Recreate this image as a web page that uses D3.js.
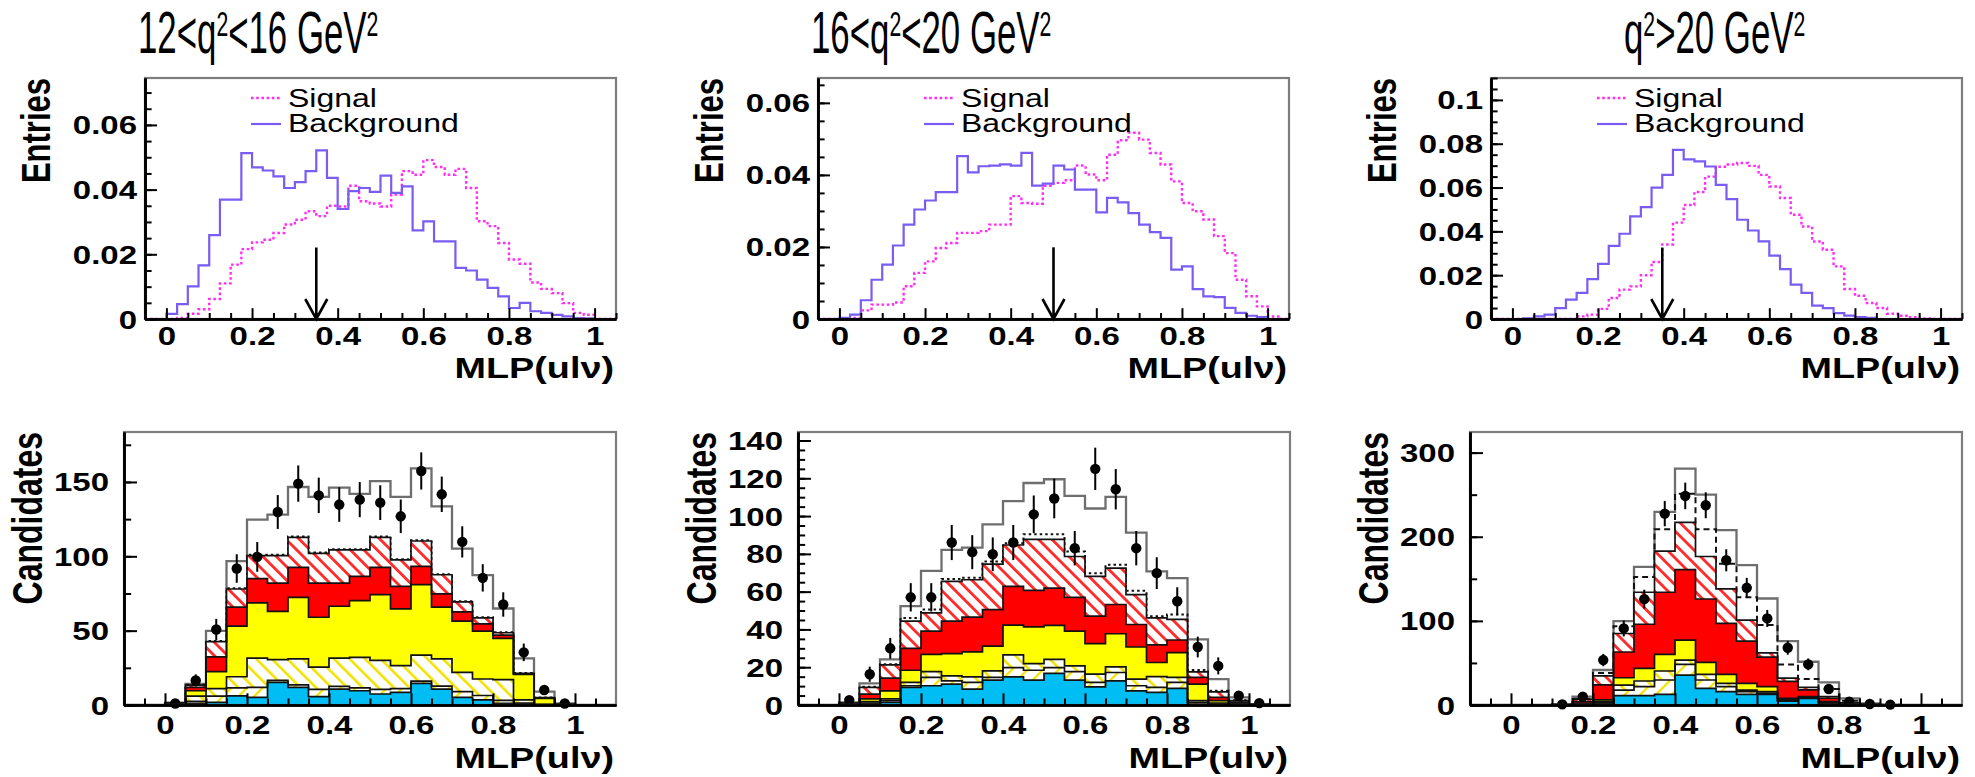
<!DOCTYPE html>
<html>
<head>
<meta charset="utf-8">
<script src="https://cdn.jsdelivr.net/npm/d3@7"></script>
<style>
  html, body { margin: 0; padding: 0; background: #fff; }
  svg { display: block; }
</style>
</head>
<body>
<svg id="chart" width="1975" height="777"></svg>
<script>
// ---------------- data ----------------
// q^2 bin titles: [text, isSuperscript]
const titleParts = [
  [["12<q", 0], ["2", 1], ["<16 GeV", 0], ["2", 1]],
  [["16<q", 0], ["2", 1], ["<20 GeV", 0], ["2", 1]],
  [["q", 0], ["2", 1], [">20 GeV", 0], ["2", 1]]
];

// MLP output shapes, 44 bins of 0.025 from -0.05 to 1.05
const sigTL = [0,0, 0,0.0003,0.0016,0.0030,0.0062,0.0110,0.0168,0.0216,0.0237,0.0245,0.0266,0.0292,0.0307,0.0333,0.0318,0.0350,0.0348,0.0412,0.0364,0.0357,0.0348,0.0385,0.0457,0.0446,0.0491,0.0470,0.0446,0.0464,0.0405,0.0302,0.0287,0.0235,0.0184,0.0171,0.0113,0.0093,0.0080,0.0049,0.0019,0.0013, 0,0];
const bkgTL = [0,0, 0.0016,0.0046,0.0101,0.0166,0.0259,0.0369,0.0369,0.0513,0.0469,0.0459,0.0441,0.0405,0.0423,0.0457,0.0521,0.0436,0.0340,0.0395,0.0405,0.0393,0.0443,0.0390,0.0410,0.0274,0.0302,0.0240,0.0240,0.0158,0.0150,0.0122,0.0096,0.0070,0.0034,0.0050,0.0024,0.0019,0.0013,0.0008,0.0003,0.0002, 0,0];
const sigTM = [0,0, 0,0.0003,0.0024,0.0040,0.0040,0.0046,0.0091,0.0128,0.0160,0.0197,0.0211,0.0239,0.0239,0.0244,0.0262,0.0262,0.0341,0.0322,0.0320,0.0370,0.0378,0.0385,0.0426,0.0401,0.0385,0.0456,0.0496,0.0517,0.0498,0.0461,0.0429,0.0382,0.0322,0.0299,0.0276,0.0230,0.0183,0.0109,0.0063,0.0035, 0.0007,0];
const bkgTM = [0,0, 0.0003,0.0012,0.0052,0.0109,0.0151,0.0204,0.0262,0.0304,0.0329,0.0352,0.0352,0.0452,0.0407,0.0424,0.0426,0.0429,0.0426,0.0461,0.0370,0.0376,0.0426,0.0415,0.0359,0.0359,0.0296,0.0336,0.0324,0.0294,0.0262,0.0241,0.0225,0.0137,0.0146,0.0083,0.0063,0.0061,0.0031,0.0017,0.0009,0.0005, 0,0];
const sigTR = [0,0, 0,0,0,0,0,0,0.0012,0.0020,0.0046,0.0096,0.0134,0.0149,0.0200,0.0260,0.0340,0.0440,0.0520,0.0580,0.0650,0.0695,0.0705,0.0712,0.0699,0.0658,0.0605,0.0552,0.0476,0.0422,0.0354,0.0316,0.0240,0.0137,0.0106,0.0073,0.0050,0.0024,0.0015,0.0008,0.0003,0, 0,0];
const bkgTR = [0,0, 0,0.0003,0.0012,0.0020,0.0050,0.0088,0.0119,0.0182,0.0252,0.0334,0.0389,0.0468,0.0511,0.0600,0.0658,0.0772,0.0729,0.0719,0.0696,0.0612,0.0547,0.0453,0.0404,0.0354,0.0289,0.0228,0.0157,0.0119,0.0061,0.0050,0.0027,0.0015,0.0009,0.0005,0,0,0,0,0,0, 0,0];

// MLP cut positions and arrow tops
const cutValue = [0.35, 0.5, 0.35];
const arrowTop = [0.0221, 0.0199, 0.0326];

// candidate distributions, 24 bins of 0.05 from -0.1 to 1.1 (stack order bottom -> top)
const blueBL  = [0,0,0.5,1.1,1.8,6.2,5.1,15.2,11.8,5.6,10.7,9.6,7.4,8.5,14.5,10.7,5.1,3.4,1.1,0.3,0,0,0,0];
const ylwBBL  = [0,0,0.2,1.4,4.2,5.3,6.7,1.3,1.7,4.9,1.8,1.9,3.1,2.5,1.5,2.0,3.9,3.0,2.0,1.0,0.2,0,0,0];
const ylwABL  = [0,0,0.2,3.5,5.0,7.5,19.7,14.0,17.5,15.0,19.0,20.5,19.5,15.5,17.5,18.3,13.0,11.1,13.9,2.2,0.3,0,0,0];
const yelBL   = [0,0,0.2,3.6,11.5,34.0,37.2,32.5,41.4,33.5,34.9,38.2,44.2,38.1,47.4,34.8,34.4,32.2,27.8,17.0,4.0,0.3,0,0];
const redBL   = [0,0,0.1,2.2,9.8,12.8,16.3,19.0,20.1,23.0,15.6,16.3,18.3,15.2,12.3,8.9,6.2,4.9,2.2,0.5,0.2,0.1,0,0];
const redHBL  = [0,0,0.1,1.6,10.3,12.2,15.5,18.5,20.3,20.0,22.3,17.8,20.3,17.8,17.1,12.9,6.7,4.0,1.6,0.3,0.3,0.1,0,0];
const altBL   = [0,0,1.4,13.6,43,78.5,101,101,113.3,102.5,104.8,104.8,113.3,98.1,110.8,88,69.7,59,49,21.5,5.1,0.5,0,0];
const totBL   = [0,0,1.5,14.2,49.8,96.8,124.7,128,146.6,140,146.2,142,150.6,140,159.2,133.6,105.2,87.3,64.9,31.3,9,1,0,0];
const dataBL  = [null,null,1,16.5,50.8,91.8,99.6,129.8,148.9,141,134.8,138.1,136.1,126.9,157.4,141.7,109.7,85.5,67.6,35.4,10.1,1,null,null];
const errBL   = [null,null,1,4.1,7.1,9.6,10,11.4,12.2,11.9,11.6,11.8,11.7,11.3,12.5,11.9,10.5,9.2,8.2,5.9,3.2,1,null,null];

const blueBM  = [0,0,0.2,0.5,1.4,9.3,10.2,11,8.4,13.2,14.9,13.2,16.7,13.2,9.6,12.8,7.5,6.7,8.8,0.5,0.3,0.1,0,0];
const ylwBBM  = [0,0,0.1,0.5,0.9,0.9,4.4,1.8,3.6,1.4,4.9,5.2,3.1,4.5,2.4,4.4,2.7,2.6,3.2,0.9,0.3,0.1,0,0];
const ylwABM  = [0,0,0.1,0.8,0.9,1.8,3.1,2.6,2.9,3.5,6.7,3.5,4.4,3.0,4.3,3.0,3.5,5.7,2.6,0.9,0.4,0.1,0,0];
const yelBM   = [0,0,0.2,1.4,4.3,6.4,9.1,11.8,13.2,13.1,15.8,19.5,17.9,18.4,16.2,17.5,17.0,7.5,13.1,8.7,1.3,0.5,0.1,0];
const redBM   = [0,0,0.2,2.6,6.7,11.6,12.3,17.2,18.4,19.3,20.5,19.3,19.8,17.9,14.5,15.5,11.9,9.3,6.7,3.6,1.7,0.7,0.1,0];
const redHBM  = [0,0,0.2,3.5,7.0,14.4,9.7,21.0,19.8,24.1,21.9,27.0,25.8,21.6,21.1,19.3,15.8,14.3,10.9,2.9,3.0,0.8,0.1,0];
const altBM   = [0,0,1.1,9.6,21.6,46.1,50.5,66.7,67.4,76,85.6,90.4,90.4,81.2,69.8,74.2,60.5,47,47.9,18.5,7.5,2.5,0.3,0];
const totBM   = [0,0,1.4,11.4,24.2,52.3,71,82.1,83.3,95.6,107.9,117.5,119.5,110.7,104,110.2,91.2,70.7,67.2,34.7,13.7,4,0.5,0];
const dataBM  = [null,null,2.6,16.3,30,57,57,86,80.9,79.8,86,100.9,109.3,83,125,114.2,83,69.8,54.9,30.7,20.7,4.9,1,null];
const errBM   = [null,null,1.6,4,5.5,7.5,7.5,9.3,9,8.9,9.3,10,10.5,9.1,11.2,10.7,9.1,8.4,7.4,5.5,4.5,2.2,1,null];

const blueBR  = [0,0,0,0,0,0.5,2,11.1,11.1,12.7,35.6,19.8,15.8,12.7,12.7,4.7,7.9,2,0.5,0.1,0,0,0,0];
const ylwBBR  = [0,0,0,0,0,0.5,1,6.7,10.7,17,12.7,9.9,6,3.1,1.3,0.8,0.6,0.5,0.3,0.1,0,0,0,0];
const ylwABR  = [0,0,0,0,0,0.5,1,5.9,6.7,10.7,5.1,6.7,3.9,2,1.8,1,0.5,0.5,0.2,0.1,0,0,0,0];
const yelBR   = [0,0,0,0,0.1,0.5,2,8.7,15,19.7,23.8,14.3,10.7,7.9,6,1.5,1,1,0.2,0.1,0.1,0,0,0];
const redBR   = [0,0,0,0,0.2,2,18,30.6,52.5,73.9,83.8,75.3,60.6,50.3,35.2,20,8,4,0.8,0.2,0.1,0,0,0];
const redHBR  = [0,0,0,0,0.2,3,10.6,22,38,49,56,50.5,41,25,5,4,3,2,0.5,0.2,0.1,0,0,0];
const altBR   = [0,0,0,0,0.6,7.5,38,93.5,152,209,251,209,168,128,95,48,31,19,5,1.2,0.4,0,0,0];
const totBR   = [0,0,0,0,1,9.9,41.6,99.7,164.2,229.5,281,250,207.8,166.2,126.6,76,51.4,26.9,7.9,2,0.5,0,0,0];
const dataBR  = [null,null,null,null,0.8,9.9,53.4,91,125.8,227.5,248.5,237.4,172,139.3,102.9,68,48.3,19,4,1.2,0.5,null,null,null];
const errBR   = [null,null,null,null,0.9,3.1,7.3,9.5,11.2,15.1,15.8,15.4,13.1,11.8,10.1,8.2,7,4.4,2,1.1,0.7,null,null,null];

// axis ticks and labels
const mlpTicks = [0, 0.2, 0.4, 0.6, 0.8, 1];
const mlpTickLabels = ["0", "0.2", "0.4", "0.6", "0.8", "1"];
const topYTicks = [[0,0.02,0.04,0.06],[0,0.02,0.04,0.06],[0,0.02,0.04,0.06,0.08,0.1]];
const topYTickLabels = [["0","0.02","0.04","0.06"],["0","0.02","0.04","0.06"],["0","0.02","0.04","0.06","0.08","0.1"]];
const botYTicks = [[0,50,100,150],[0,20,40,60,80,100,120,140],[0,100,200,300]];
const botYTickLabels = [["0","50","100","150"],["0","20","40","60","80","100","120","140"],["0","100","200","300"]];
const topYMax = [0.0745, 0.0669, 0.11];
const botYMax = [183.6, 144.5, 324.5];
const topYMinorStep = [0.005, 0.005, 0.005];
const botYMinorStep = [25, 5, 50];
const legendLabels = ["Signal", "Background"];

// ---------------- layout ----------------
const FONT = '"Liberation Sans", Arial, Helvetica, sans-serif';
const SX = 1.32;                       // horizontal stretch of the panel lettering
const TITLE_SX = 0.59;                 // titles use a tall narrow face
const topLeft = [145, 818, 1491], topW = 471, topT = 78, topB = 319;
const botLeft = [124, 798, 1470], botW = 492, botT = 432, botB = 705;
const topX0 = -0.05, topBW = 0.025;
const botX0 = -0.1, botBW = 0.05;
const titleX = [138, 811, 1624];
const sigColor = "#ff2df5", bkgColor = "#7a5cf2";

const svg = d3.select("#chart");
const defs = svg.append("defs");

function hatch(id, color, angle, spacing, width) {
  const p = defs.append("pattern").attr("id", id).attr("patternUnits", "userSpaceOnUse")
    .attr("width", spacing).attr("height", spacing)
    .attr("patternTransform", `rotate(${angle})`);
  p.append("rect").attr("width", spacing).attr("height", spacing).attr("fill", "#fff");
  p.append("rect").attr("x", 0).attr("width", width).attr("height", spacing).attr("fill", color);
}
hatch("hRed", "#ff2a2a", -45, 9.5, 2.8);
hatch("hYelA", "#f2e200", -45, 11, 2.6);
hatch("hYelB", "#f2e200", 45, 11, 2.2);

function stepPts(vals, x, y, x0, bw) {
  const pts = vals.map((v, k) => [x(x0 + k * bw), y(v)]);
  pts.push([x(x0 + vals.length * bw), y(vals[vals.length - 1])]);
  return pts;
}
const stepLine = d3.line().curve(d3.curveStepAfter);

function stretchedText(parent, x, y, str, opts) {
  const g = parent.append("g").attr("transform", `translate(${x},${y}) scale(${opts.sx || SX},1)${opts.rot ? " rotate(-90)" : ""}`);
  return g.append("text").attr("font-family", FONT).attr("font-size", opts.size)
    .attr("font-weight", opts.bold ? "bold" : "normal").attr("text-anchor", opts.anchor || "start")
    .attr("fill", "#000").text(str);
}

function styleAxis(sel, fs) {
  sel.attr("font-family", FONT).attr("font-size", fs).attr("font-weight", "bold");
  sel.select(".domain").attr("stroke", "#000").attr("stroke-width", 2.6);
  sel.selectAll(".tick line").attr("stroke", "#000").attr("stroke-width", 2);
  sel.selectAll(".tick text").attr("fill", "#000");
}

function drawAxes(g, x, y, L, R, T, B, xMinor, yMajor, yLabels, yMinor, yPad, xLabelY, tickLen) {
  // frame
  g.append("rect").attr("x", L).attr("y", T).attr("width", R - L).attr("height", B - T)
    .attr("fill", "none").attr("stroke", "#7d7d7d").attr("stroke-width", 2.2);
  // y axis: minor then major
  g.append("g").attr("transform", `translate(${L},0)`)
    .call(d3.axisLeft(y).tickValues(yMinor).tickSize(-tickLen * 0.55).tickSizeOuter(0).tickFormat(""))
    .call(s => styleAxis(s, 25));
  g.append("g").attr("transform", `translate(${L},0)`)
    .call(d3.axisLeft(y).tickValues(yMajor).tickSize(-tickLen).tickSizeOuter(0)
      .tickPadding(yPad / SX).tickFormat((d, i) => yLabels[i]))
    .call(s => styleAxis(s, 25))
    .call(s => s.selectAll(".tick text").attr("transform", `scale(${SX},1)`).attr("dy", "0.36em"));
  // x axis: minor then major
  g.append("g").attr("transform", `translate(0,${B})`)
    .call(d3.axisBottom(x).tickValues(xMinor).tickSize(-tickLen * 0.5).tickSizeOuter(0).tickFormat(""))
    .call(s => styleAxis(s, 25));
  g.append("g").attr("transform", `translate(0,${B})`)
    .call(d3.axisBottom(x).tickValues(mlpTicks).tickSize(-tickLen * 0.9).tickSizeOuter(0)
      .tickFormat((d, i) => mlpTickLabels[i]))
    .call(s => styleAxis(s, 25))
    .call(s => s.selectAll(".tick text").attr("y", xLabelY).attr("dy", 0).attr("transform", `scale(${SX},1)`));
}

// ---------------- titles ----------------
titleParts.forEach((parts, i) => {
  const t = svg.append("g").attr("transform", `translate(${titleX[i]},53) scale(${TITLE_SX},1)`)
    .append("text").attr("x", 0).attr("y", 0)
    .attr("font-family", FONT).attr("font-size", 59).attr("fill", "#000");
  let prevSup = false;
  parts.forEach(([s, sup]) => {
    const ts = t.append("tspan").attr("font-size", sup ? 36 : 59).text(s);
    if (sup) ts.attr("dy", -17);
    else if (prevSup) ts.attr("dy", 17);
    prevSup = !!sup;
  });
});

// ---------------- top row: MLP shapes ----------------
const sigTop = [sigTL, sigTM, sigTR];
const bkgTop = [bkgTL, bkgTM, bkgTR];

for (let p = 0; p < 3; p++) {
  const L = topLeft[p], R = L + topW;
  const x = d3.scaleLinear().domain([topX0, topX0 + 44 * topBW]).range([L, R]);
  const y = d3.scaleLinear().domain([0, topYMax[p]]).range([topB, topT]);
  const g = svg.append("g");
  const clip = "clipTop" + p;
  defs.append("clipPath").attr("id", clip).append("rect")
    .attr("x", L).attr("y", topT).attr("width", topW).attr("height", topB - topT);
  const pl = g.append("g").attr("clip-path", `url(#${clip})`);

  pl.append("path").attr("d", stepLine(stepPts(sigTop[p], x, y, topX0, topBW)))
    .attr("fill", "none").attr("stroke", sigColor).attr("stroke-width", 2.4).attr("stroke-dasharray", "2.6,2.6");
  pl.append("path").attr("d", stepLine(stepPts(bkgTop[p], x, y, topX0, topBW)))
    .attr("fill", "none").attr("stroke", bkgColor).attr("stroke-width", 2.2);

  // cut arrow
  const ax = x(cutValue[p]);
  g.append("line").attr("x1", ax).attr("x2", ax).attr("y1", y(arrowTop[p])).attr("y2", y(0))
    .attr("stroke", "#000").attr("stroke-width", 2.6);
  g.append("path").attr("d", `M${ax - 11},${y(0) - 20}L${ax},${y(0)}L${ax + 11},${y(0) - 20}`)
    .attr("fill", "none").attr("stroke", "#000").attr("stroke-width", 2.6);

  const xMinor = d3.range(-1, 22).map(k => k * 0.05).filter(v => !mlpTicks.includes(+v.toFixed(2)));
  const yMinor = d3.range(0, Math.floor(topYMax[p] / topYMinorStep[p] + 1e-6) + 1).map(k => k * topYMinorStep[p]);
  drawAxes(g, x, y, L, R, topT, topB, xMinor, topYTicks[p], topYTickLabels[p], yMinor, 8, 26, 12);

  // legend
  const lx = L + 106;
  g.append("line").attr("x1", lx).attr("x2", lx + 30).attr("y1", 98).attr("y2", 98)
    .attr("stroke", sigColor).attr("stroke-width", 2.4).attr("stroke-dasharray", "2.6,2.6");
  g.append("line").attr("x1", lx).attr("x2", lx + 30).attr("y1", 124).attr("y2", 124)
    .attr("stroke", bkgColor).attr("stroke-width", 2.2);
  stretchedText(g, L + 143, 107, legendLabels[0], { size: 25, sx: 1.28 });
  stretchedText(g, L + 143, 132, legendLabels[1], { size: 25, sx: 1.28 });

  // axis titles
  stretchedText(g, L - 95, topT, "Entries", { size: 31, bold: true, rot: true, anchor: "end" });
  stretchedText(g, R - 2, 378, "MLP(ul\u03bd)", { size: 30, bold: true, anchor: "end", sx: 1.26 });
}

// ---------------- bottom row: candidate stacks ----------------
const layerKeys = ["blue", "ylwB", "ylwA", "yellow", "red", "redH"];
const layerFill = {
  blue: "#00bdf4", ylwB: "url(#hYelB)", ylwA: "url(#hYelA)",
  yellow: "#ffff00", red: "#ff0000", redH: "url(#hRed)"
};
const botLayers = [
  [blueBL, ylwBBL, ylwABL, yelBL, redBL, redHBL],
  [blueBM, ylwBBM, ylwABM, yelBM, redBM, redHBM],
  [blueBR, ylwBBR, ylwABR, yelBR, redBR, redHBR]
];
const botAlt = [altBL, altBM, altBR];
const botAltDash = ["2.5,3", "2.5,3", "6,4"];
const botTot = [totBL, totBM, totBR];
const botData = [dataBL, dataBM, dataBR];
const botErr = [errBL, errBM, errBR];

for (let p = 0; p < 3; p++) {
  const L = botLeft[p], R = L + botW;
  const x = d3.scaleLinear().domain([botX0, botX0 + 24 * botBW]).range([L, R]);
  const y = d3.scaleLinear().domain([0, botYMax[p]]).range([botB, botT]);
  const g = svg.append("g");
  const clip = "clipBot" + p;
  defs.append("clipPath").attr("id", clip).append("rect")
    .attr("x", L).attr("y", botT).attr("width", botW).attr("height", botB - botT);
  const pl = g.append("g").attr("clip-path", `url(#${clip})`);

  const rows = botTot[p].map((_, k) => {
    const r = {};
    layerKeys.forEach((key, j) => { r[key] = botLayers[p][j][k]; });
    return r;
  });
  const stacked = d3.stack().keys(layerKeys)(rows);

  // overall fit: white body with grey outline
  const totPts = stepPts(botTot[p], x, y, botX0, botBW);
  const area = d3.area().curve(d3.curveStepAfter).x(d => d[0]).y0(d => d[1]).y1(d => d[2]);
  pl.append("path").attr("d", area(totPts.map(d => [d[0], y(0), d[1]]))).attr("fill", "#fff");
  pl.append("path").attr("d", stepLine(totPts)).attr("fill", "none").attr("stroke", "#6e6e6e").attr("stroke-width", 2.3);

  // alternative fit line
  pl.append("path").attr("d", stepLine(stepPts(botAlt[p], x, y, botX0, botBW)))
    .attr("fill", "none").attr("stroke", "#111").attr("stroke-width", 2).attr("stroke-dasharray", botAltDash[p]);

  // stacked components
  stacked.forEach(s => {
    const pts = s.map((d, k) => [x(botX0 + k * botBW), y(d[0]), y(d[1])]);
    pts.push([x(botX0 + s.length * botBW), y(s[s.length - 1][0]), y(s[s.length - 1][1])]);
    pl.append("path").attr("d", area(pts)).attr("fill", layerFill[s.key]);
  });
  stacked.forEach(s => {
    const pts = s.map((d, k) => [x(botX0 + k * botBW), y(d[1])]);
    pts.push([x(botX0 + s.length * botBW), y(s[s.length - 1][1])]);
    pl.append("path").attr("d", stepLine(pts)).attr("fill", "none")
      .attr("stroke", "#111").attr("stroke-width", 1.7);
  });

  // data points with errors
  const pts = botData[p].map((v, k) => ({ v, e: botErr[p][k], c: botX0 + (k + 0.5) * botBW })).filter(d => d.v !== null);
  g.selectAll(null).data(pts).enter().append("line")
    .attr("x1", d => x(d.c)).attr("x2", d => x(d.c))
    .attr("y1", d => y(Math.max(0, d.v - d.e))).attr("y2", d => y(d.v + d.e))
    .attr("stroke", "#000").attr("stroke-width", 2);
  g.selectAll(null).data(pts).enter().append("circle")
    .attr("cx", d => x(d.c)).attr("cy", d => y(d.v)).attr("r", 5.2).attr("fill", "#000");

  const xMinor = d3.range(-1, 22).map(k => k * 0.05).filter(v => !mlpTicks.includes(+v.toFixed(2)));
  const yMinor = d3.range(0, Math.floor(botYMax[p] / botYMinorStep[p] + 1e-6) + 1).map(k => k * botYMinorStep[p]);
  drawAxes(g, x, y, L, R, botT, botB, xMinor, botYTicks[p], botYTickLabels[p], yMinor, 15, 29, 13);

  stretchedText(g, L - 82, botT, "Candidates", { size: 32, bold: true, rot: true, anchor: "end" });
  stretchedText(g, R - 2, 768, "MLP(ul\u03bd)", { size: 30, bold: true, anchor: "end", sx: 1.26 });
}
</script>
</body>
</html>
